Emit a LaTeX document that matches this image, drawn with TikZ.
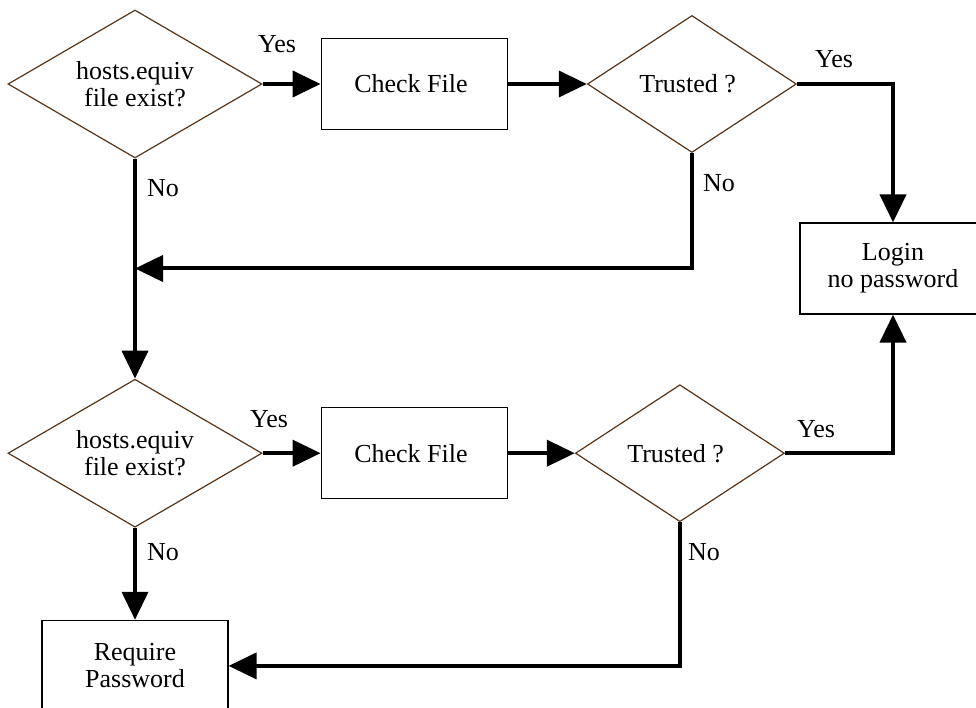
\documentclass[tikz,border=0pt]{standalone}
\usepackage{fontspec}
\setmainfont{Liberation Serif}
\usepackage{tikz}
\usetikzlibrary{positioning,shapes.geometric,arrows.meta}
\definecolor{diabrown}{RGB}{87,52,24}

\begin{document}
\begin{tikzpicture}[x = 1pt, y = -1pt,
    every node/.style = { align = center, font = \fontsize{26}{27}\selectfont },
    decision/.style = { draw = diabrown, line width = 1.2pt, shape = diamond, inner sep = 0pt },
    hostsq/.style = { decision, minimum width = 254pt, minimum height = 148pt, aspect = 1.7 },
    trustq/.style = { decision, minimum width = 209pt, minimum height = 137pt, aspect = 1.5 },
    process/.style = { draw, line width = 1.2pt, shape = rectangle, minimum width = 186pt, minimum height = 91pt, inner sep = 0pt },
    flow/.style = { line width = 4pt, -{Triangle[length = 28pt, width = 26pt]} },
    lbl/.style = { anchor = base west, inner sep = 0pt }]
    \useasboundingbox (0,0) rectangle (976,708);

    % upper row
    \node [hostsq] (d1) at (135,84) { hosts.equiv \\ file exist? };
    \node [process, right = 58pt of d1] (cf1) { Check File };
    \node [trustq, right = 79pt of cf1] (tr1) { Trusted ? };
    \node [process] (login) at (893,268.5) { Login \\ no password };

    % lower row
    \node [hostsq, below = 220pt of d1] (d2) { hosts.equiv \\ file exist? };
    \node [process, right = 58pt of d2] (cf2) { Check File };
    \node [trustq, right = 67pt of cf2] (tr2) { Trusted ? };
    \node [process, below = 92pt of d2] (rp) { Require \\ Password };

    % connectors
    \draw [flow] (d1.east) -- (cf1.west);
    \draw [flow] (cf1.east) -- (tr1.west);
    \draw [flow] (tr1.east) -| (login.north);
    \draw [flow] (tr1.south) |- (d1.south |- login.west);
    \draw [flow] (d1.south) -- (d2.north);
    \draw [flow] (d2.east) -- (cf2.west);
    \draw [flow] (cf2.east) -- (tr2.west);
    \draw [flow] (tr2.east) -| (login.south);
    \draw [flow] (tr2.south) |- (rp.east);
    \draw [flow] (d2.south) -- (rp.north);

    % labels
    \node [lbl] (y1) at (258,53) { Yes };
    \node [lbl] (n1) at (147,197) { No };
    \node [lbl] (y2) at (815,68) { Yes };
    \node [lbl] (n2) at (703,192) { No };
    \node [lbl] (y3) at (250,427) { Yes };
    \node [lbl] (n3) at (147,560) { No };
    \node [lbl] (y4) at (797,437) { Yes };
    \node [lbl] (n4) at (688,560) { No };

\end{tikzpicture}
\end{document}
